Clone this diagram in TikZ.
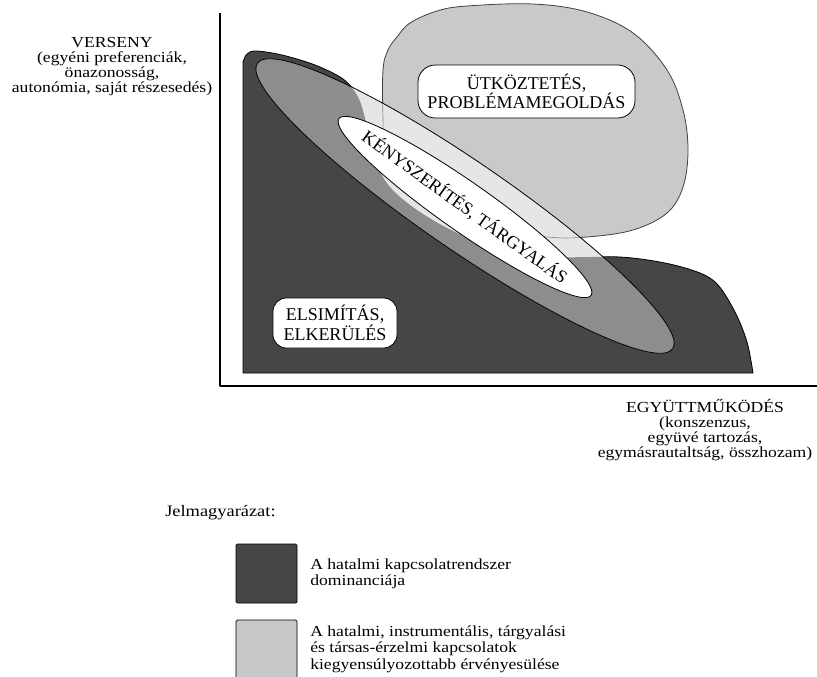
\documentclass[tikz,border=0pt]{standalone}
\usepackage{fontspec}
\setmainfont{Liberation Serif}
\newfontfamily\lblfont[FakeStretch=1.15]{Liberation Serif}
\usetikzlibrary{shapes.geometric}
\definecolor{darkc}{HTML}{464646}
\definecolor{medc}{HTML}{8D8D8D}
\definecolor{lightc}{HTML}{E6E6E6}
\definecolor{blobc}{HTML}{C9C9C9}
\definecolor{legc}{HTML}{C8C8C8}
\begin{document}
\begin{tikzpicture}[x=0.75pt,y=-0.75pt,line join=round,
  boxlab/.style={draw=black, fill=white, line width=0.6pt, align=center, inner sep=0pt,
    font=\fontsize{13.5}{13.5}\selectfont},
  axlab/.style={align=center, inner sep=0pt, font=\lblfont\fontsize{11.5}{11.3}\selectfont},
  leglab/.style={align=left, inner sep=0pt, font=\lblfont\fontsize{11.5}{12.4}\selectfont},
  legbox/.style={draw=black, line width=0.6pt, rounded corners=1pt, minimum width=45.75pt, inner sep=0pt},
]
\useasboundingbox (0,0) rectangle (817,676);

% axes
\coordinate (ytop) at (220,13);
\coordinate (org) at (220,386);
\coordinate (xend) at (817,386);
\draw[line width=1.1pt] (ytop) -- (org) -- (xend);

% dark region
\path[save path=\DarkP] (753,373) -- (243,373) -- (243,62) -- plot[smooth, tension=0.55] coordinates {(243,62) (247,54) (256,51) (282,55) (315,65) (343,79) (358,97) (366,122) (374,158) (390,187) (420,212) (462,235) (515,251) (560,257) (620,257) (665,263) (700,273) (718,285) (735,312) (747,342) (753,373)} -- cycle;
\fill[darkc, use path=\DarkP];
\draw[black, line width=0.6pt, use path=\DarkP];

% light blob
\path[save path=\BlobP] plot[smooth cycle, tension=0.6] coordinates {(383,118) (383,70) (388,50) (397,37) (410,23) (437,11) (467,6) (533,4) (587,12) (633,33) (667,70) (683,110) (688,150) (683,187) (667,213) (633,230) (587,237) (547,237) (495,229) (440,212) (405,192) (386,160)};
\fill[blobc, use path=\BlobP];
\draw[black!75, line width=0.6pt, use path=\BlobP];

% big tilted ellipse
\fill[lightc, rotate around={-34.5:(465,206)}] (465,206) ellipse [x radius=189pt, y radius=33pt];
\begin{scope}
  \clip[use path=\DarkP];
  \fill[medc, rotate around={-34.5:(465,206)}] (465,206) ellipse [x radius=189pt, y radius=33pt];
\end{scope}
\begin{scope}
  \clip[rotate around={-34.5:(465,206)}] (465,206) ellipse [x radius=189pt, y radius=33pt];
  \draw[black!45, line width=0.5pt, use path=\BlobP];
\end{scope}
\draw[black, line width=0.6pt, rotate around={-34.5:(465,206)}] (465,206) ellipse [x radius=189pt, y radius=33pt];

% inner white ellipse with text
\node[ellipse, draw=black, fill=white, line width=0.6pt, minimum width=231pt, minimum height=37pt, inner sep=0pt, rotate=-35] (kell) at (465,207) {};
\node[rotate=-35.8, inner sep=0pt, font=\fontsize{13.5}{13.5}\selectfont] (ktxt) at (kell.center) {KÉNYSZERÍTÉS, TÁRGYALÁS};

% boxes
\node[boxlab, rounded corners=13pt, minimum width=162.75pt, minimum height=39.75pt] (utk) at (526.5,91.5) {ÜTKÖZTETÉS,\\PROBLÉMAMEGOLDÁS};
\node[boxlab, rounded corners=10pt, minimum width=93pt, minimum height=37.5pt] (els) at (335,323) {ELSIMÍTÁS,\\ELKERÜLÉS};

% axis labels
\node[axlab, anchor=north] (vers) at (112,37) {VERSENY\\(egyéni preferenciák,\\önazonosság,\\autonómia, saját részesedés)};
\node[axlab, anchor=north] (egy) at (705,399) {EGYÜTTMŰKÖDÉS\\(konszenzus,\\együvé tartozás,\\egymásrautaltság, összhozam)};

% legend
\node[leglab, anchor=base west, font=\lblfont\fontsize{12}{12.4}\selectfont] (jel) at (165,516) {Jelmagyarázat:};
\node[legbox, fill=darkc, minimum height=44.25pt] (lg1) at (266.5,573.5) {};
\node[legbox, fill=legc, minimum height=45pt] (lg2) at (266.5,650) {};
\node[leglab, anchor=north west] (lt1) at (310,558.5) {A hatalmi kapcsolatrendszer\\dominanciája};
\node[leglab, anchor=north west] (lt2) at (310,625.5) {A hatalmi, instrumentális, tárgyalási\\és társas-érzelmi kapcsolatok\\kiegyensúlyozottabb érvényesülése};
\end{tikzpicture}
\end{document}
